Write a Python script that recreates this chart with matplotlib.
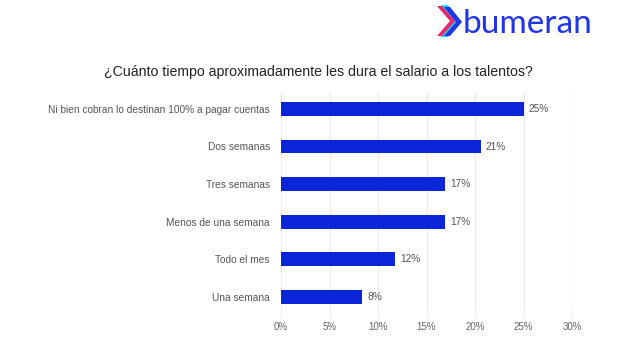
import matplotlib
matplotlib.use("Agg")
import matplotlib.pyplot as plt
from matplotlib.patches import Polygon

categories = ["Ni bien cobran lo destinan 100% a pagar cuentas", "Dos semanas", "Tres semanas",
              "Menos de una semana", "Todo el mes", "Una semana"]
values = [25.0, 20.6, 16.9, 16.9, 11.8, 8.4]
labels = ["25%", "21%", "17%", "17%", "12%", "8%"]
xticks = [0, 5, 10, 15, 20, 25, 30]
xticklabels = ["0%", "5%", "10%", "15%", "20%", "25%", "30%"]
title = "¿Cuánto tiempo aproximadamente les dura el salario a los talentos?"

plt.rcParams['font.family'] = ['Liberation Sans', 'DejaVu Sans']

fig = plt.figure(figsize=(6.34, 3.53), dpi=100)
ax = fig.add_axes([281/634, 1-310/353, 291/634, 218/353])

ypos = list(range(len(categories)))
ax.barh(ypos, values, height=0.37, color="#0b26d8", zorder=3)
for y, v, l in zip(ypos, values, labels):
    ax.text(v + 0.5, y, l, va="center", ha="left", fontsize=7.3, color="#555555")

ax.set_xlim(0, 30)
ax.set_ylim(5.35, -0.45)
ax.set_yticks(ypos)
ax.set_yticklabels(categories, fontsize=7.3, color="#555555")
ax.set_xticks(xticks)
ax.set_xticklabels(xticklabels, fontsize=7, color="#666666")
ax.tick_params(axis="y", length=0, pad=8)
ax.tick_params(axis="x", length=5, color="#ebebeb", pad=4)
ax.grid(axis="x", color="#ebebeb", linewidth=1, zorder=0)
for s in ax.spines.values():
    s.set_visible(False)

fig.text(318/634, 1-72/353, title, ha="center", va="center", fontsize=10.2, color="#222222")

# logo
fig.text(463/634, 1-24/353, "bumeran", ha="left", va="center", fontsize=24, color="#1f35e8",
         family=["Lato", "DejaVu Sans"])
def P(pts, c):
    fig.patches.append(Polygon([(x/634, 1-y/353) for x, y in pts], closed=True,
                               transform=fig.transFigure, facecolor=c, edgecolor="none"))
P([(437, 6), (443, 6), (456, 21), (443, 36), (437, 36), (450, 21)], "#e8286e")
P([(441, 5), (448, 5), (461, 21), (448, 37), (441, 37), (455, 21)], "#2ad1e0")
P([(444, 7), (450, 7), (462, 22), (450, 36), (444, 36), (456, 22)], "#1f35e8")

fig.savefig("out.png", dpi=100, facecolor="white")
